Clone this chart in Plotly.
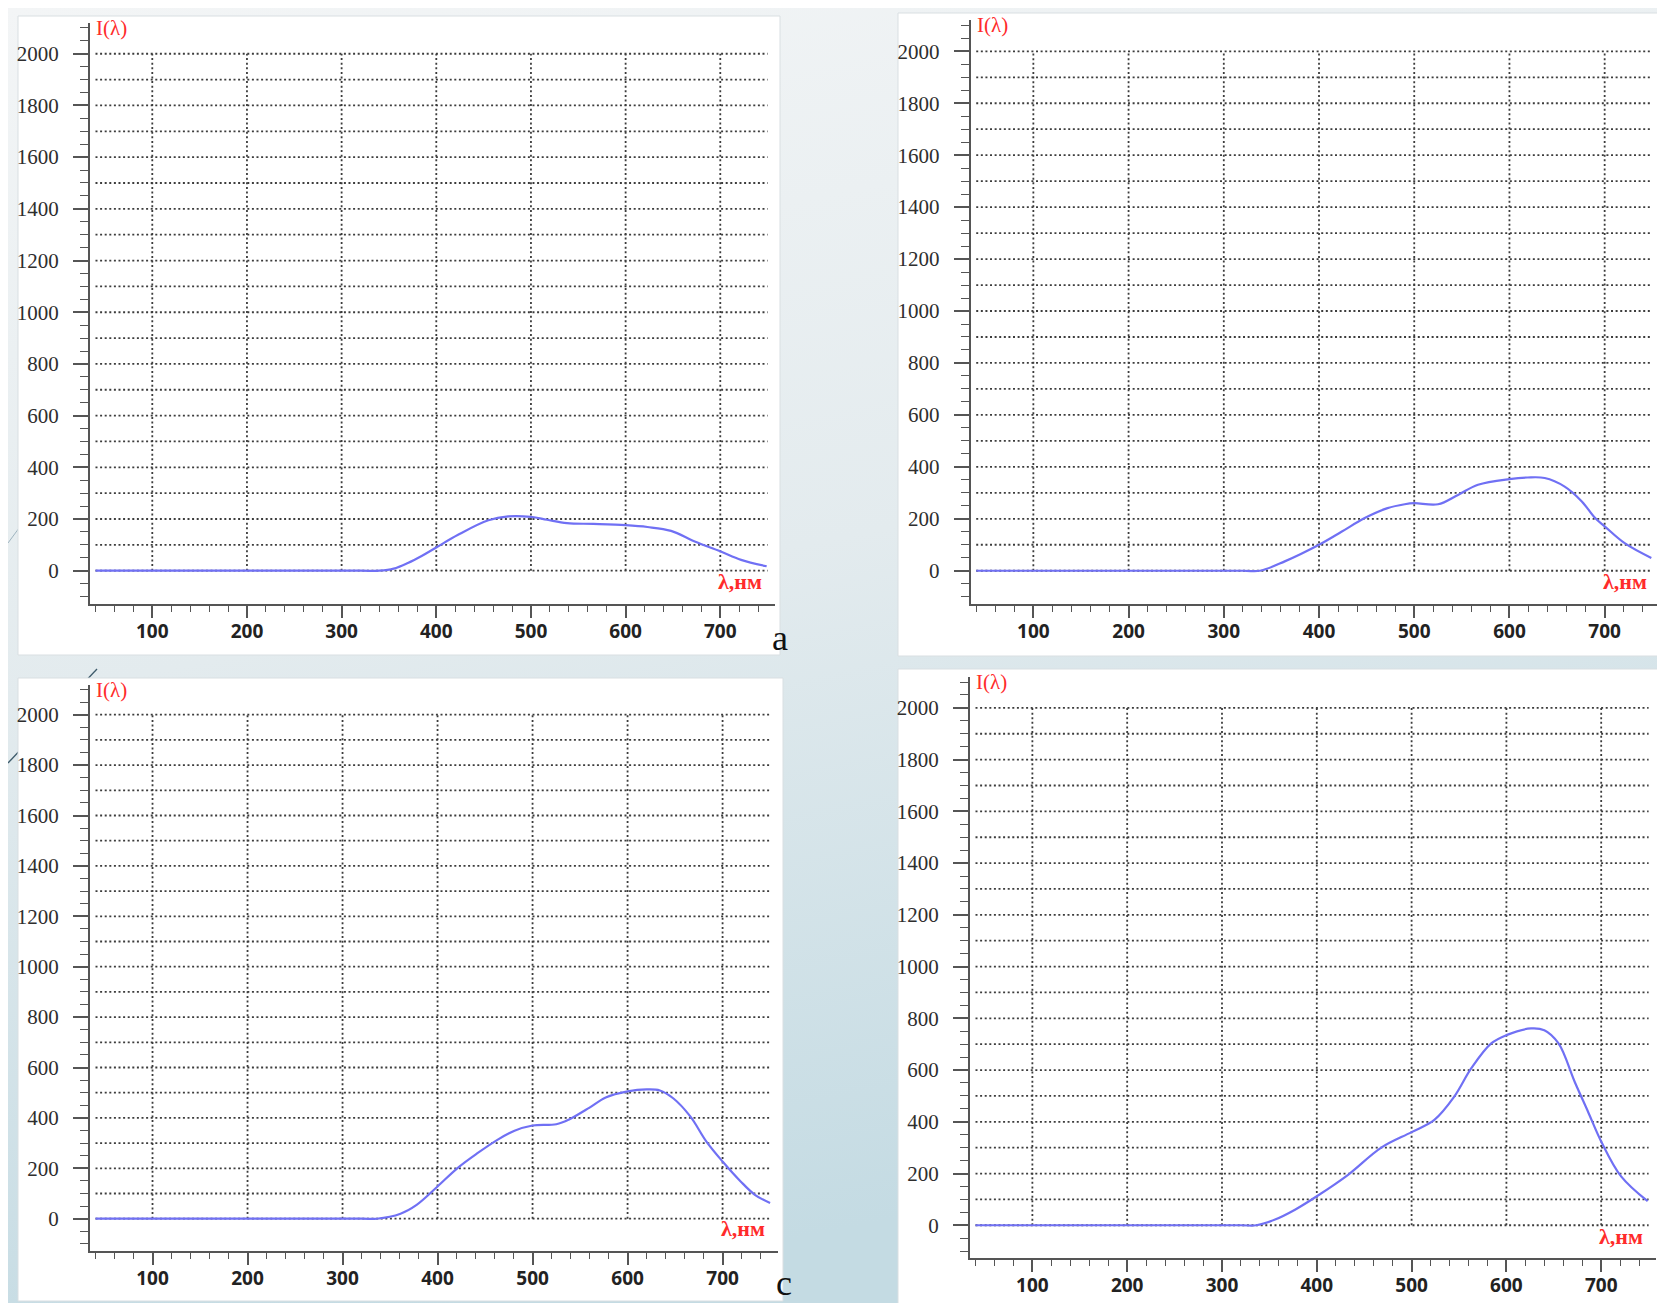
import base64
import plotly.graph_objects as go

W, H = 1665, 1303

# ---------------- data ----------------
wl_a = [40, 320, 340, 355, 370, 385, 400, 423, 455, 476, 500, 517, 538, 566, 600, 623, 648, 673, 700, 722, 749]
I_a = [0, 0, 0, 8, 30, 58, 90, 139, 195, 210, 208, 197, 184, 181, 176, 169, 154, 113, 75, 42, 17]

wl_b = [40, 320, 338, 364, 400, 424, 448, 472, 490, 500, 525, 546, 567, 600, 619, 637, 658, 676, 690, 700, 721, 749]
I_b = [0, 0, 0, 36, 100, 151, 203, 241, 256, 260, 256, 292, 331, 353, 359, 357, 324, 267, 203, 171, 106, 49]

wl_c = [40, 320, 336, 361, 378, 400, 421, 442, 463, 481, 500, 525, 539, 560, 577, 600, 620, 634, 648, 666, 683, 700, 719, 734, 750]
I_c = [0, 0, 0, 20, 55, 128, 201, 260, 313, 349, 370, 375, 395, 441, 481, 505, 513, 509, 478, 406, 306, 227, 148, 95, 62]

wl_d = [40, 320, 336, 356, 377, 400, 433, 468, 500, 524, 545, 563, 584, 600, 626, 640, 655, 672, 686, 700, 721, 749]
I_d = [0, 0, 0, 22, 60, 112, 195, 300, 360, 407, 497, 607, 703, 735, 761, 754, 703, 555, 440, 324, 189, 93]

y_ticks = [0, 200, 400, 600, 800, 1000, 1200, 1400, 1600, 1800, 2000]
x_ticks = [100, 200, 300, 400, 500, 600, 700]
grid_y_levels = [0, 100, 200, 300, 400, 500, 600, 700, 800, 900, 1000,
                 1100, 1200, 1300, 1400, 1500, 1600, 1700, 1800, 1900, 2000]
grid_x_levels = [100, 200, 300, 400, 500, 600, 700]
grid_x_span = [40, 750]
grid_y_span = [0, 2000]
panel_letters = ["a", "b", "c", "d"]
y_label = "I(λ)"
x_label = "λ,нм"

series = [(wl_a, I_a), (wl_b, I_b), (wl_c, I_c), (wl_d, I_d)]

# ---------------- geometry (pixels) ----------------
XR = [34.2, 757.8]
YR = [-127.7, 2119]

# plot area of each panel: left, right, top, bottom
plot_px = [
    (82, 767, 15, 595.7),
    (962.7, 1651.7, 12.4, 595.9),
    (82, 769.5, 676.7, 1242.9),
    (962, 1648, 669.1, 1250.3),
]
# white panel boxes: x0, x1, y0, y1
boxes = [
    (10, 772, 8, 647),
    (890, 1655, 5, 648),
    (10, 775, 670, 1293),
    (890, 1652, 661, 1303),
]
letter_pos = [(762, 644), (1647, 645), (766, 1289), (1647, 1297)]


def px_x(p):
    return p / W


def px_y(p):
    return 1 - p / H


fig = go.Figure()

# background gradient
svg = (
    f'<svg xmlns="http://www.w3.org/2000/svg" width="{W}" height="{H}">'
    '<defs><linearGradient id="g" x1="0" y1="0" x2="0.25" y2="1">'
    '<stop offset="0" stop-color="#f3f5f6"/>'
    '<stop offset="0.5" stop-color="#e3ebee"/>'
    '<stop offset="1" stop-color="#c4dbe3"/>'
    '</linearGradient></defs>'
    f'<rect width="{W}" height="{H}" fill="url(#g)"/>'
    '<line x1="0" y1="755" x2="89" y2="661" stroke="#3e5b6b" stroke-width="1.3"/>'
    '<line x1="0" y1="535" x2="28" y2="497" stroke="#9fb4bf" stroke-width="1"/>'
    '</svg>'
)
src = "data:image/svg+xml;base64," + base64.b64encode(svg.encode()).decode()
fig.add_layout_image(dict(source=src, xref="paper", yref="paper", x=0, y=1,
                          sizex=1, sizey=1, xanchor="left", yanchor="top",
                          sizing="stretch", layer="below"))

layout = {}
annotations = []
shapes = []

axis_col = "#555555"
grid_col = "#3c3c3c"
red = "#ff2b2b"

# grid segments (None-separated) built from the grid level lists
gx, gy = [], []
for lv in grid_y_levels:
    gx += [grid_x_span[0], grid_x_span[1], None]
    gy += [lv, lv, None]
for lv in grid_x_levels:
    gx += [lv, lv, None]
    gy += [grid_y_span[0], grid_y_span[1], None]

for i, ((wl, inten), (L, R, T, B), box) in enumerate(zip(series, plot_px, boxes)):
    k = i + 1
    suf = "" if k == 1 else str(k)

    layout[f"xaxis{suf}"] = dict(
        domain=[px_x(L), px_x(R)], range=XR, anchor=f"y{suf}",
        showgrid=False, zeroline=False, showline=True, linecolor=axis_col, linewidth=2,
        tickmode="array", tickvals=x_ticks, ticktext=[str(v) for v in x_ticks],
        ticks="outside", ticklen=12, tickwidth=1.5, tickcolor=axis_col,
        minor=dict(ticks="outside", tick0=0, dtick=20, ticklen=6, tickwidth=1.3,
                   tickcolor=axis_col, showgrid=False),
        tickfont=dict(family="Open Sans", size=19, color="#222222", weight="bold"),
        ticklabelstandoff=-3, fixedrange=True,
    )
    layout[f"yaxis{suf}"] = dict(
        domain=[px_y(B), px_y(T)], range=YR, anchor=f"x{suf}",
        showgrid=False, zeroline=False, showline=True, linecolor=axis_col, linewidth=2,
        tickmode="array", tickvals=y_ticks, ticktext=[str(v) for v in y_ticks],
        ticks="outside", ticklen=15, tickwidth=1.5, tickcolor=axis_col,
        minor=dict(ticks="outside", tick0=0, dtick=50, ticklen=8, tickwidth=1.3,
                   tickcolor=axis_col, showgrid=False),
        tickfont=dict(family="Liberation Serif", size=21, color="#2e2e2e"),
        ticklabelstandoff=10, fixedrange=True,
    )

    fig.add_trace(go.Scatter(
        x=gx, y=gy, mode="lines", xaxis=f"x{suf}", yaxis=f"y{suf}",
        line=dict(color=grid_col, width=1.8, dash="2px,2.6px"),
        showlegend=False, hoverinfo="skip", connectgaps=False,
    ))
    fig.add_trace(go.Scatter(
        x=wl, y=inten, mode="lines", xaxis=f"x{suf}", yaxis=f"y{suf}",
        line=dict(color="#7070f4", width=2.2, shape="spline", smoothing=1.0),
        showlegend=False, hoverinfo="skip",
    ))

    shapes.append(dict(type="rect", xref="paper", yref="paper", layer="below",
                       x0=px_x(box[0]), x1=px_x(box[1]), y0=px_y(box[3]), y1=px_y(box[2]),
                       fillcolor="white", line=dict(color="#d9dfe2", width=1)))

    annotations.append(dict(text=y_label, xref="paper", yref="paper",
                            x=px_x(L + 4), y=px_y(T + 5), xanchor="left", yanchor="middle",
                            showarrow=False,
                            font=dict(family="Liberation Serif", size=21, color=red)))
    annotations.append(dict(text=x_label, xref="paper", yref="paper",
                            x=px_x(R - 11), y=px_y(B - 22), xanchor="right", yanchor="middle",
                            showarrow=False,
                            font=dict(family="Liberation Serif", size=22, color=red, weight="bold")))
    lx, ly = letter_pos[i]
    annotations.append(dict(text=panel_letters[i], xref="paper", yref="paper",
                            x=px_x(lx), y=px_y(ly), xanchor="left", yanchor="bottom",
                            showarrow=False, yshift=-8,
                            font=dict(family="Liberation Serif", size=36, color="#111111")))

fig.update_layout(
    width=W, height=H, autosize=False,
    margin=dict(l=0, r=0, t=0, b=0, pad=0),
    paper_bgcolor="#e6eef1", plot_bgcolor="rgba(0,0,0,0)",
    showlegend=False, shapes=shapes, annotations=annotations,
    **layout,
)

fig.write_html("out.html")
